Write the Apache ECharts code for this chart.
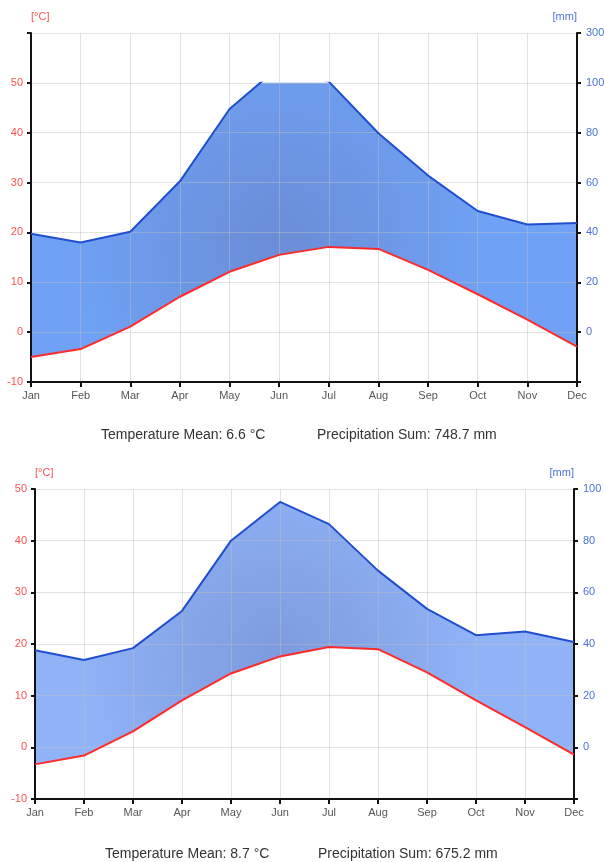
<!DOCTYPE html>
<html>
<head>
<meta charset="utf-8">
<script src="https://cdn.jsdelivr.net/npm/echarts@6/dist/echarts.min.js"></script>
<style>
  html, body { margin: 0; padding: 0; background: #fff; }
  #charts { width: 604px; height: 862px; }
</style>
</head>
<body>
<div id="charts"></div>
<script>
// months and the values
var months = ['Jan', 'Feb', 'Mar', 'Apr', 'May', 'Jun', 'Jul', 'Aug', 'Sep', 'Oct', 'Nov', 'Dec'];

var tempTop = [-5.0, -3.4, 1.1, 7.1, 12.1, 15.5, 17.1, 16.7, 12.5, 7.6, 2.5, -2.9];
var precipTop = [39.5, 36, 40.3, 60.5, 89.5, 106.5, 100.5, 79.8, 62.8, 48.6, 43.2, 43.8];

var tempBottom = [-3.3, -1.6, 3.1, 9.1, 14.3, 17.6, 19.4, 19.0, 14.5, 9.1, 3.9, -1.4];
var precipBottom = [37.6, 33.8, 38.4, 52.8, 80, 95, 86.4, 68.4, 53.6, 43.4, 44.8, 40.8];

var summaryTop = ['Temperature Mean: 6.6 °C', 'Precipitation Sum: 748.7 mm'];
var summaryBottom = ['Temperature Mean: 8.7 °C', 'Precipitation Sum: 675.2 mm'];

var FONT = 'Liberation Sans, Arial, sans-serif';
var RED = '#ff5050';
var BLUE = '#4a72d8';
var GRIDLINE = 'rgba(190,190,190,0.45)';

var grids = [], xAxes = [], yAxes = [], series = [], graphics = [];

function panel(cfg) {
    var g = grids.length;
    // grid with the visible axes
    grids.push({left: cfg.left, top: cfg.top, width: cfg.width, height: cfg.height,
        containLabel: false, outerBoundsMode: 'none'});
    // grid that clips the precipitation at the 100 mm line
    var clipTop = cfg.top + cfg.height * (cfg.tMax - 50) / (cfg.tMax + 10);
    grids.push({left: cfg.left, top: clipTop, width: cfg.width, height: cfg.top + cfg.height - clipTop,
        containLabel: false, outerBoundsMode: 'none'});

    var xa = xAxes.length;
    xAxes.push({
        gridIndex: g, type: 'category', data: months, boundaryGap: false, z: 3,
        axisLine: {onZero: false, lineStyle: {color: '#111', width: 2}},
        axisTick: {show: true, length: 5, lineStyle: {color: '#111', width: 2}},
        axisLabel: {color: '#555', fontSize: 11, fontFamily: FONT, margin: 8},
        splitLine: {show: true, lineStyle: {color: GRIDLINE, width: 1}}
    });
    xAxes.push({gridIndex: g + 1, type: 'category', data: months, boundaryGap: false, show: false});

    var ya = yAxes.length;
    yAxes.push({
        gridIndex: g, type: 'value', min: -10, max: cfg.tMax, interval: 10, position: 'left', z: 3,
        name: '[°C]', nameLocation: 'end', nameGap: 11,
        nameTextStyle: {color: RED, fontSize: 11, fontFamily: FONT, align: 'left'},
        axisLine: {show: true, onZero: false, lineStyle: {color: '#111', width: 2}},
        axisTick: {show: true, length: 4, lineStyle: {color: '#111', width: 2}},
        axisLabel: {color: RED, fontSize: 11, fontFamily: FONT, margin: 8,
            formatter: function (v) { return v > 50 ? '' : v; }},
        splitLine: {show: true, lineStyle: {color: GRIDLINE, width: 1}}
    });
    yAxes.push({
        gridIndex: g, type: 'value', min: -20, max: cfg.tMax * 2, interval: 20, position: 'right', z: 3,
        name: '[mm]', nameLocation: 'end', nameGap: 11,
        nameTextStyle: {color: BLUE, fontSize: 11, fontFamily: FONT, align: 'right'},
        axisLine: {show: true, onZero: false, lineStyle: {color: '#111', width: 2}},
        axisTick: {show: true, length: 4, lineStyle: {color: '#111', width: 2}},
        axisLabel: {color: BLUE, fontSize: 11, fontFamily: FONT, margin: 9,
            formatter: function (v) { return v < 0 ? '' : (v > 100 ? '300' : v); }},
        splitLine: {show: false}
    });
    // hidden axes of the clip grid (temperature scale and precipitation scale)
    yAxes.push({gridIndex: g + 1, type: 'value', min: -10, max: 50, show: false});
    yAxes.push({gridIndex: g + 1, type: 'value', min: -20, max: 100, show: false});

    var stack = 'humid' + g;
    series.push({
        type: 'line', xAxisIndex: xa + 1, yAxisIndex: ya + 2, stack: stack, stackStrategy: 'all',
        data: cfg.temp, symbol: 'none', lineStyle: {width: 0, opacity: 0}, silent: true, z: 1
    });
    series.push({
        type: 'line', xAxisIndex: xa + 1, yAxisIndex: ya + 2, stack: stack, stackStrategy: 'all',
        data: cfg.precip.map(function (p, i) { return p / 2 - cfg.temp[i]; }),
        symbol: 'none', lineStyle: {width: 0, opacity: 0}, silent: true, z: 1,
        areaStyle: {opacity: 1, color: new echarts.graphic.RadialGradient(0.45, 0.6, 0.75, [
            {offset: 0, color: cfg.fillIn}, {offset: 1, color: cfg.fillOut}])}
    });
    series.push({
        type: 'line', xAxisIndex: xa + 1, yAxisIndex: ya + 3, data: cfg.precip,
        symbol: 'none', lineStyle: {color: '#1f4fcf', width: 2}, z: 4
    });
    series.push({
        type: 'line', xAxisIndex: xa, yAxisIndex: ya, data: cfg.temp,
        symbol: 'none', lineStyle: {color: '#ff2a2a', width: 2}, z: 4
    });

    graphics.push({type: 'text', left: cfg.textX[0], top: cfg.textY,
        style: {text: cfg.summary[0], font: '14px ' + FONT, fill: '#333'}});
    graphics.push({type: 'text', left: cfg.textX[1], top: cfg.textY,
        style: {text: cfg.summary[1], font: '14px ' + FONT, fill: '#333'}});
}

panel({left: 31, top: 33, width: 546, height: 349, tMax: 60,
    temp: tempTop, precip: precipTop, summary: summaryTop,
    fillIn: '#6a8dd6', fillOut: '#6fa2f6', textX: [101, 317], textY: 428});
panel({left: 35, top: 489, width: 539, height: 310, tMax: 50,
    temp: tempBottom, precip: precipBottom, summary: summaryBottom,
    fillIn: '#7d9ade', fillOut: '#90b2f6', textX: [105, 318], textY: 847});

var myChart = echarts.init(document.getElementById('charts'));
myChart.setOption({
    animation: false,
    grid: grids,
    xAxis: xAxes,
    yAxis: yAxes,
    series: series,
    graphic: graphics
});
</script>
</body>
</html>
